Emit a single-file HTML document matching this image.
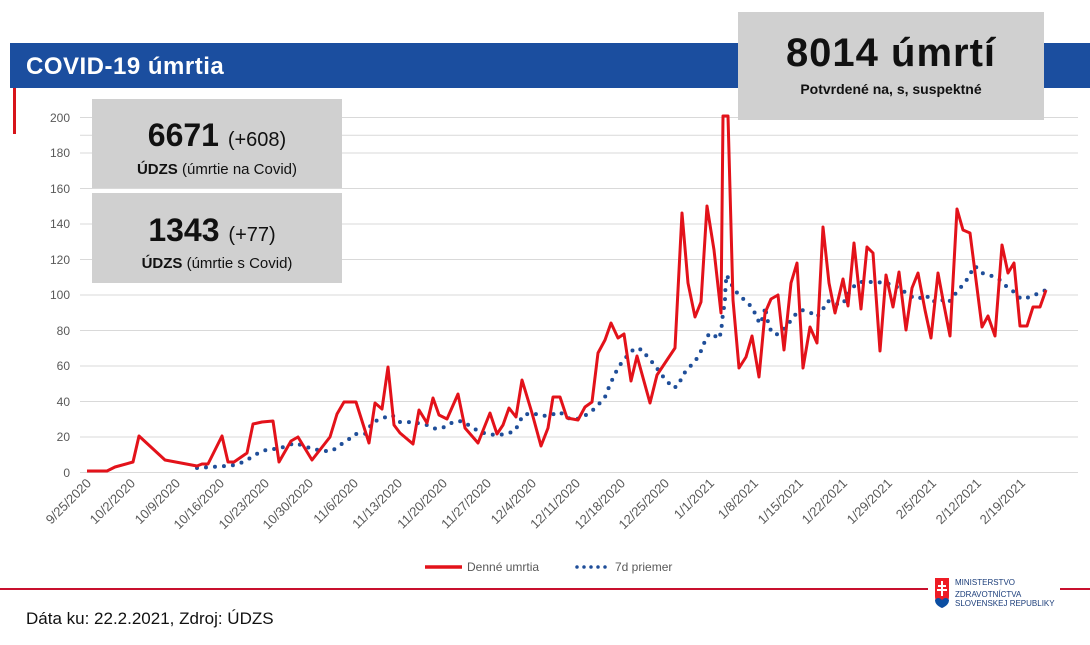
<!DOCTYPE html>
<html><head><meta charset="utf-8"><style>
body{margin:0;width:1090px;height:640px;background:#fff;overflow:hidden;font-family:"Liberation Sans",sans-serif;}
</style></head><body>
<svg width="1090" height="640" xmlns="http://www.w3.org/2000/svg" font-family="Liberation Sans, sans-serif">
<rect x="10" y="43" width="1080" height="45" fill="#1b4e9f"/>
<text x="26" y="74" fill="#fff" font-size="24" font-weight="bold" letter-spacing="0.5">COVID-19 úmrtia</text>
<rect x="13" y="88" width="3" height="46" fill="#d7141a"/>
<g stroke="#d9d9d9" stroke-width="1">
<line x1="80" x2="1078" y1="117.5" y2="117.5"/><line x1="80" x2="1078" y1="135.3" y2="135.3"/>
<line x1="80" x2="1078" y1="153" y2="153"/><line x1="80" x2="1078" y1="188.5" y2="188.5"/>
<line x1="80" x2="1078" y1="224" y2="224"/><line x1="80" x2="1078" y1="259.5" y2="259.5"/>
<line x1="80" x2="1078" y1="295" y2="295"/><line x1="80" x2="1078" y1="330.5" y2="330.5"/>
<line x1="80" x2="1078" y1="366" y2="366"/><line x1="80" x2="1078" y1="401.5" y2="401.5"/>
<line x1="80" x2="1078" y1="437" y2="437"/><line x1="80" x2="1078" y1="472.5" y2="472.5"/>
</g>
<g font-size="12" fill="#595959" text-anchor="end">
<text x="70" y="122">200</text><text x="70" y="157">180</text><text x="70" y="193">160</text><text x="70" y="228">140</text><text x="70" y="264">120</text><text x="70" y="299">100</text><text x="70" y="335">80</text><text x="70" y="370">60</text><text x="70" y="406">40</text><text x="70" y="441">20</text><text x="70" y="477">0</text>
</g>
<g font-size="13" fill="#595959" text-anchor="end">
<text transform="translate(92,484) rotate(-45)">9/25/2020</text>
<text transform="translate(136,484) rotate(-45)">10/2/2020</text>
<text transform="translate(181,484) rotate(-45)">10/9/2020</text>
<text transform="translate(225,484) rotate(-45)">10/16/2020</text>
<text transform="translate(270,484) rotate(-45)">10/23/2020</text>
<text transform="translate(314,484) rotate(-45)">10/30/2020</text>
<text transform="translate(359,484) rotate(-45)">11/6/2020</text>
<text transform="translate(403,484) rotate(-45)">11/13/2020</text>
<text transform="translate(448,484) rotate(-45)">11/20/2020</text>
<text transform="translate(492,484) rotate(-45)">11/27/2020</text>
<text transform="translate(537,484) rotate(-45)">12/4/2020</text>
<text transform="translate(581,484) rotate(-45)">12/11/2020</text>
<text transform="translate(626,484) rotate(-45)">12/18/2020</text>
<text transform="translate(670,484) rotate(-45)">12/25/2020</text>
<text transform="translate(715,484) rotate(-45)">1/1/2021</text>
<text transform="translate(759,484) rotate(-45)">1/8/2021</text>
<text transform="translate(804,484) rotate(-45)">1/15/2021</text>
<text transform="translate(848,484) rotate(-45)">1/22/2021</text>
<text transform="translate(893,484) rotate(-45)">1/29/2021</text>
<text transform="translate(937,484) rotate(-45)">2/5/2021</text>
<text transform="translate(982,484) rotate(-45)">2/12/2021</text>
<text transform="translate(1026,484) rotate(-45)">2/19/2021</text>
</g>
<polyline fill="none" stroke="#1f4e99" stroke-width="4" stroke-linecap="round" stroke-dasharray="0 9" points="197,468 225,466 235,465 243,462 252,457 260,452 269,449 278,449 286,446 295,443 304,446 313,449 323,451 332,451 340,445 348,440 355,434 365,434 373,422 383,418 392,415 400,422 408,422 417,423 427,425 436,429 445,427 453,422 462,421 470,426 478,431 487,434 497,435 506,434 515,431 523,415 532,413 542,416 551,415 560,412 567,418 577,419 583,417 592,411 599,404 605,397 609,387 613,378 617,370 622,362 628,355 635,348 643,350 648,358 655,365 660,373 667,381 673,388 678,386 682,377 687,369 694,363 699,355 703,347 706,337 711,333 719,339 721,332 722,323 723,313 725,302 725,293 726,285 726,275 730,280 733,288 740,296 748,303 753,309 757,318 760,324 764,315 765,307 768,322 771,331 776,335 783,330 789,323 795,315 802,310 811,313 817,317 823,309 828,301 836,304 843,304 847,296 853,287 860,282 869,282 877,282 885,283 894,285 902,290 910,296 918,299 926,295 932,302 940,299 948,303 953,297 959,289 965,283 970,274 975,266 982,273 992,276 1000,280 1007,287 1014,292 1021,299 1030,297 1039,293 1046,290"/>
<polyline fill="none" stroke="#e3121a" stroke-width="3" stroke-linejoin="round" points="87,471 107,471 115,467 133,462 139,436 165,460 197,466 202,464 208,464 222,436 228,462 234,462 247,453 253,424 262,422 273,421 279,462 291,441 298,437 312,460 330,437 337,414 344,402 356,402 369,443 375,403 382,409 388,367 394,425 400,433 413,444 419,410 427,423 433,398 439,415 447,419 458,394 465,428 478,443 490,413 497,434 503,425 509,408 516,417 522,380 532,413 541,446 548,428 553,397 560,397 567,418 578,420 585,407 592,402 598,353 605,340 611,323 618,338 624,334 631,381 637,356 650,403 657,375 675,348 682,213 688,283 695,317 701,302 707,206 714,250 721,313 723,116 728,116 733,300 739,368 746,357 752,336 759,377 765,313 771,299 778,295 784,350 791,283 797,263 803,368 810,327 817,343 823,227 829,283 835,313 843,279 848,306 854,243 861,309 867,247 873,253 880,351 886,275 893,307 899,272 906,330 912,288 918,273 925,310 931,338 938,273 943,300 950,336 957,209 963,230 970,233 982,327 988,316 995,336 1002,245 1008,273 1014,263 1020,326 1027,326 1033,307 1040,307 1046,290"/>
<rect x="92" y="99" width="250" height="89" fill="#d0d0d0"/>
<text x="217" y="146" text-anchor="middle" font-size="32" font-weight="bold" fill="#111">6671 <tspan font-size="20" font-weight="normal">(+608)</tspan></text>
<text x="217" y="174" text-anchor="middle" font-size="15" fill="#111"><tspan font-weight="bold">ÚDZS</tspan> (úmrtie na Covid)</text>
<rect x="92" y="193" width="250" height="90" fill="#d0d0d0"/>
<text x="212" y="241" text-anchor="middle" font-size="32" font-weight="bold" fill="#111">1343 <tspan font-size="20" font-weight="normal">(+77)</tspan></text>
<text x="217" y="268" text-anchor="middle" font-size="15" fill="#111"><tspan font-weight="bold">ÚDZS</tspan> (úmrtie s Covid)</text>
<rect x="738" y="12" width="306" height="108" fill="#d0d0d0"/>
<text x="891" y="66" text-anchor="middle" font-size="40" font-weight="bold" fill="#111" letter-spacing="1">8014 úmrtí</text>
<text x="891" y="94" text-anchor="middle" font-size="14" font-weight="bold" fill="#111">Potvrdené na, s, suspektné</text>
<line x1="425" y1="567" x2="462" y2="567" stroke="#e3121a" stroke-width="3.5"/>
<text x="467" y="571" font-size="12" fill="#595959">Denné umrtia</text>
<line x1="577" y1="567" x2="610" y2="567" stroke="#1f4e99" stroke-width="3.5" stroke-linecap="round" stroke-dasharray="0 7"/>
<text x="615" y="571" font-size="12" fill="#595959">7d priemer</text>
<rect x="0" y="588" width="1090" height="2" fill="#c8102e"/>
<rect x="928" y="575" width="132" height="40" fill="#fff"/>
<path d="M935 578 h14 v18 q0 8 -7 12 q-7 -4 -7 -12z" fill="#ee1c25"/>
<path d="M935 600 q3 -4 7 0 q4 -4 7 0 q0 5 -7 8 q-7 -3 -7 -8z" fill="#0b4ea2"/>
<rect x="941" y="581" width="2" height="15" fill="#fff"/><rect x="938" y="585" width="8" height="2" fill="#fff"/><rect x="937" y="589" width="10" height="2" fill="#fff"/>
<text x="955" y="585" font-size="8" fill="#1b3d7a">MINISTERSTVO</text>
<text x="955" y="597" font-size="8" fill="#1b3d7a">ZDRAVOTNÍCTVA</text>
<text x="955" y="606" font-size="8" fill="#1b3d7a">SLOVENSKEJ REPUBLIKY</text>
<text x="26" y="624" font-size="17" fill="#111">Dáta ku: 22.2.2021, Zdroj: ÚDZS</text>
</svg>
</body></html>
